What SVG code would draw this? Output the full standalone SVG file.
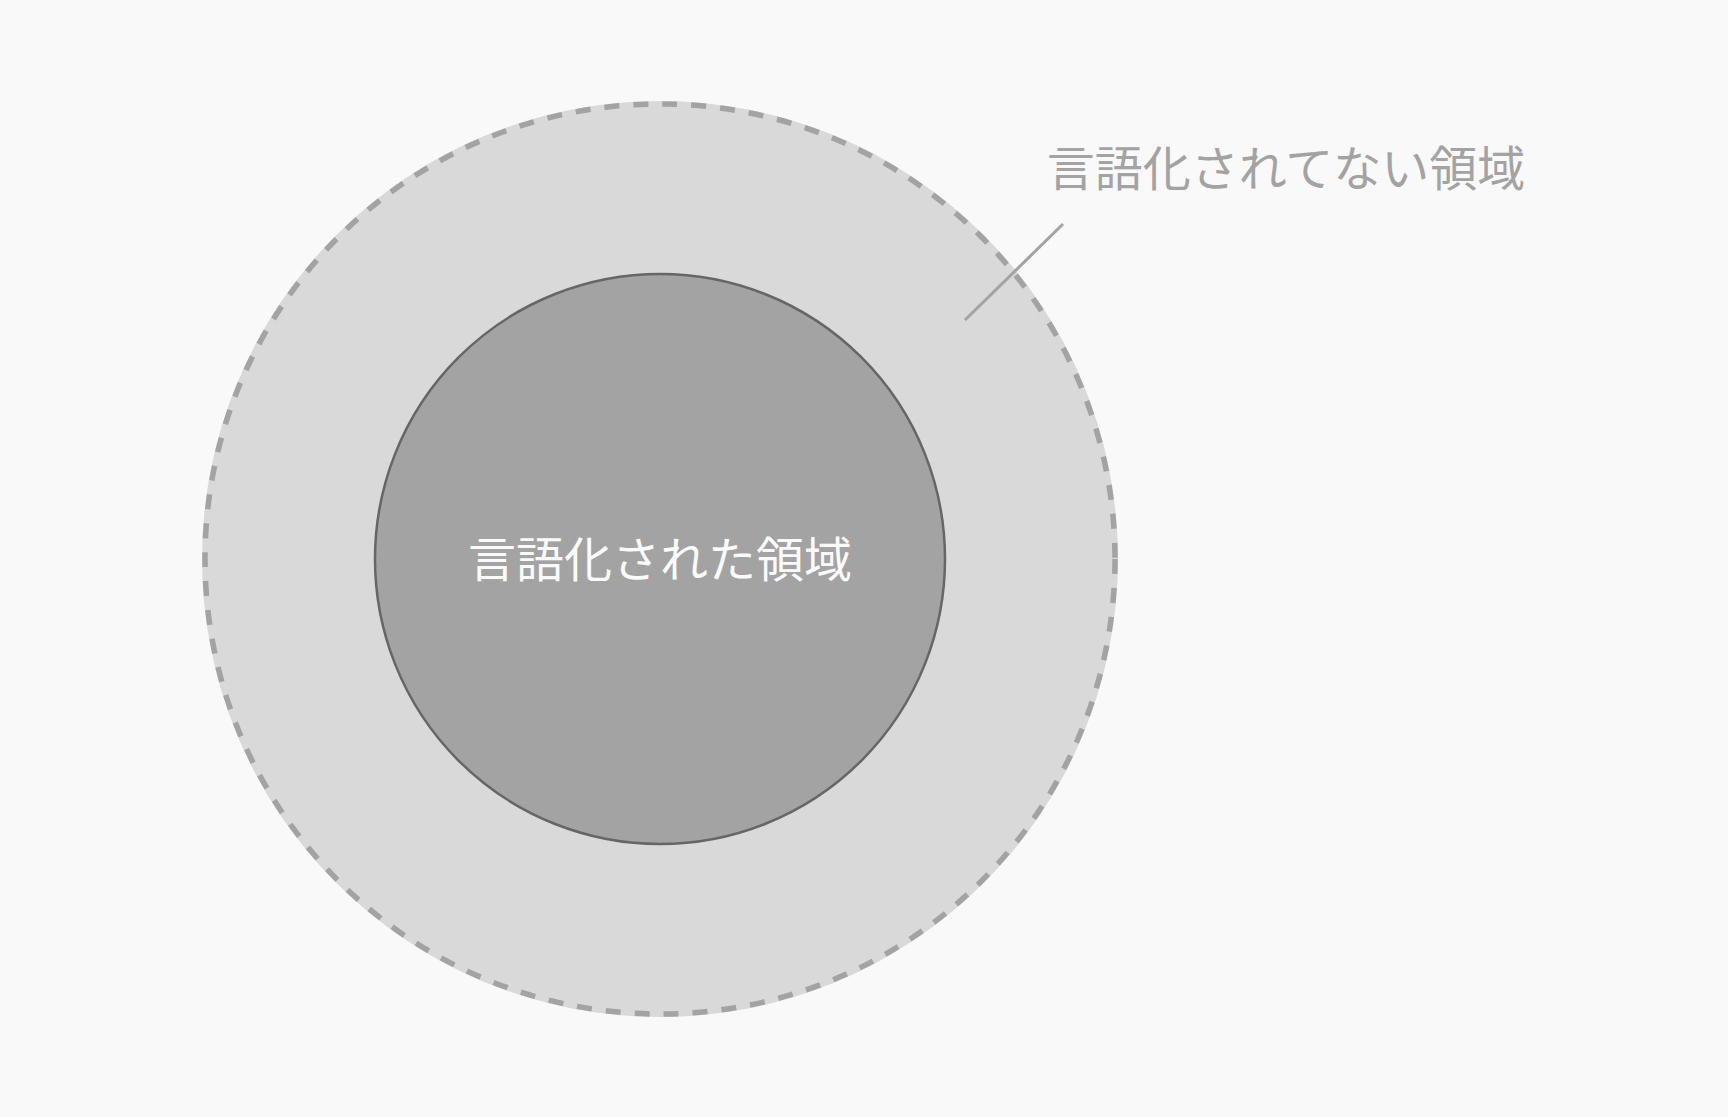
<svg xmlns="http://www.w3.org/2000/svg" width="1728" height="1117" viewBox="0 0 1728 1117">
<style>
.lbl{font-family:"Noto Sans CJK JP","Noto Sans CJK SC",sans-serif;font-size:48px;}
</style>
<rect x="0" y="0" width="1728" height="1117" fill="#f9f9f9"/>
<g id="outer">
<circle cx="660" cy="559" r="458" fill="#d9d9d9"/>
<circle cx="660" cy="559" r="455" fill="none" stroke="#a3a3a3" stroke-width="5.5" stroke-dasharray="15 14"/>
</g>
<g id="inner">
<circle cx="660" cy="559" r="285" fill="#a3a3a3" stroke="#666666" stroke-width="2.5"/>
<text class="lbl" x="660" y="577" text-anchor="middle" fill="#fafafa">言語化された領域</text>
</g>
<g id="connectors">
<line x1="965" y1="320" x2="1063" y2="224" stroke="#a3a3a3" stroke-width="3"/>
</g>
<g id="label">
<text class="lbl" x="1286" y="186" text-anchor="middle" fill="#a3a3a3">言語化されてない領域</text>
</g>
</svg>
